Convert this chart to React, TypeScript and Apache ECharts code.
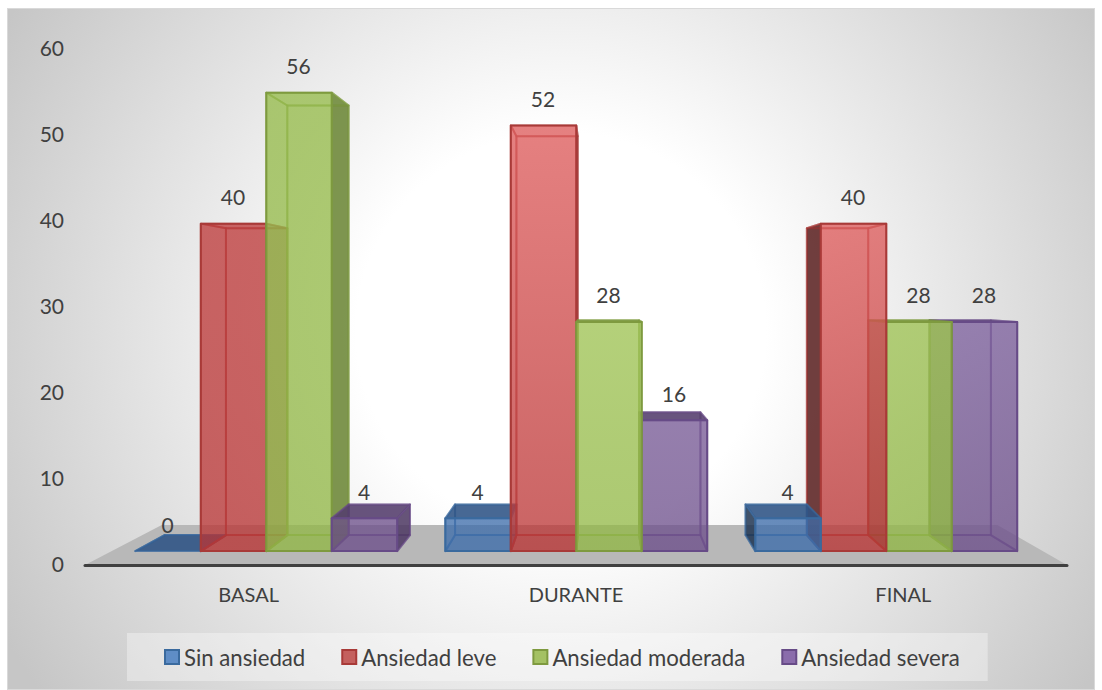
import React, { useEffect, useRef } from "react";
import * as echarts from "echarts";

const stages = ["BASAL", "DURANTE", "FINAL"];
const levels = ["Sin ansiedad", "Ansiedad leve", "Ansiedad moderada", "Ansiedad severa"];
const sinAnsiedad = [0, 4, 4];
const ansiedadLeve = [40, 52, 40];
const ansiedadModerada = [56, 28, 28];
const ansiedadSevera = [4, 16, 28];
const levelValues = [sinAnsiedad, ansiedadLeve, ansiedadModerada, ansiedadSevera];
const valueTicks = { min: 0, max: 60, interval: 10 };

// Face colours per level: dim tone, lit tone, edge, legend swatch
const dimTones = [[60, 108, 170], [185, 52, 52], [145, 183, 69], [108, 78, 138]];
const litTones = [[60, 112, 176], [222, 90, 90], [158, 195, 82], [127, 98, 160]];
const edgeTones = ["#3A6A9E", "#A83A38", "#7E9A3F", "#674B87"];
const swatchTones = ["#5F8DC6", "#C4605E", "#A4C163", "#8A6CAB"];

const FONT = "Lato, sans-serif";
const TEXT = "#404040";

// Depth planes of the 3D projection, measured from the axis plane
const FRONT_SCALE_X = 0.947;
const FRONT_SCALE_Y = 0.952;
const BACK_RATIO = 0.937;
const FLOOR_SCALE = 0.851;
const VANISH_VALUE = 31.2;
const VANISH_BAND_SHIFT = 0.073;
const BAR_BAND_RATIO = 0.2112;
const BAR_NUDGE = 1;

const rgba = (c: number[], a: number) => `rgba(${c[0]},${c[1]},${c[2]},${a})`;
const shade = (c: number[], k: number) => c.map((v) => Math.round(v * k));
const mix = (a: number[], b: number[], t: number) => a.map((v, i) => Math.round(v + (b[i] - v) * t));
const clamp = (v: number) => Math.max(0, Math.min(1, v));

function vanishing(api: any) {
  const band = api.size([1, 0])[0];
  const vx = api.coord([1, 0])[0] + band * VANISH_BAND_SHIFT;
  const vy = api.coord([0, VANISH_VALUE])[1];
  return { band, vx, vy };
}

function renderBar(levelIndex: number) {
  return (_params: any, api: any) => {
    const { band, vx, vy } = vanishing(api);
    const stage = api.value(0);
    const value = api.value(1);
    const base = api.coord([stage, 0]);
    const top = api.coord([stage, value]);
    const w = band * BAR_BAND_RATIO;
    const x1 = base[0] + (levelIndex - 2) * w;
    const x2 = x1 + w;

    const front = (x: number, y: number) => [
      vx + (x - vx) * FRONT_SCALE_X - BAR_NUDGE,
      vy + (y - vy) * FRONT_SCALE_Y - BAR_NUDGE,
    ];
    const back = (p: number[]) => [vx + (p[0] - vx) * BACK_RATIO, vy + (p[1] - vy) * BACK_RATIO];

    const frontTL = front(x1, top[1]);
    const frontTR = front(x2, top[1]);
    const frontBR = front(x2, base[1]);
    const frontBL = front(x1, base[1]);
    const backTL = back(frontTL);
    const backTR = back(frontTR);
    const backBR = back(frontBR);
    const backBL = back(frontBL);

    // Bars further from the vanishing point are painted first
    const centre = (frontTL[0] + frontTR[0]) / 2;
    const order = Math.round(1000 - Math.abs(centre - vx)) * 10;

    const litX = clamp((centre - 200) / 300);
    const litAt = (y: number) => litX * clamp((520 - y) / 220);
    const toneAt = (y: number) => mix(dimTones[levelIndex], litTones[levelIndex], litAt(y));
    const edge = edgeTones[levelIndex];
    const midTone = dimTones[levelIndex];

    const leftOuter = backTL[0] < frontTL[0];
    const rightOuter = backTR[0] > frontTR[0];
    const topOuter = frontTL[1] > vy;

    // A side face hidden behind a neighbour at least as tall only tints that neighbour
    const leftHidden = levelIndex > 0 && levelValues[levelIndex - 1][stage] >= value;
    const rightHidden = levelIndex < 3 && levelValues[levelIndex + 1][stage] >= value;

    const face = (pts: number[][], fill: string, rank: number) => ({
      type: "polygon",
      z2: order + rank,
      shape: { points: pts },
      style: { fill, stroke: edge, lineWidth: 2, strokeOpacity: 0.55, lineJoin: "round" },
    });

    const children: any[] = [
      face([backTL, backTR, backBR, backBL], rgba(midTone, 0.06), 0),
      face([frontBL, frontBR, backBR, backBL], rgba(midTone, 0.12), 1),
      face(
        [frontTL, backTL, backBL, frontBL],
        leftOuter ? rgba(shade(midTone, 0.45), leftHidden ? 0.45 : 0.82) : rgba(midTone, 0.05),
        2
      ),
      face(
        [frontTR, backTR, backBR, frontBR],
        rightOuter ? rgba(shade(midTone, 0.72), rightHidden ? 0.5 : 0.85) : rgba(midTone, 0.05),
        3
      ),
      face([frontTL, frontTR, backTR, backTL], topOuter ? rgba(shade(midTone, 0.78), 0.88) : rgba(midTone, 0.05), 4),
    ];

    if (value > 0) {
      children.push({
        type: "polygon",
        z2: order + 5,
        shape: { points: [frontTL, frontTR, frontBR, frontBL] },
        style: {
          fill: new echarts.graphic.LinearGradient(0, 0, 0, 1, [
            { offset: 0, color: rgba(toneAt(frontTL[1]), 0.75) },
            { offset: 1, color: rgba(toneAt(frontBL[1]), 0.75) },
          ]),
          stroke: edge,
          lineWidth: 2,
          lineJoin: "round",
        },
      });
    }

    children.push({
      type: "text",
      z2: 20000,
      style: {
        text: String(value),
        x: centre - 0.5,
        y: frontTL[1] - 27,
        fill: TEXT,
        fontSize: 21,
        fontFamily: FONT,
        align: "center",
        verticalAlign: "middle",
      },
    });

    return { type: "group", children };
  };
}

// The grey floor plate that the bars stand on
function renderFloor(_params: any, api: any) {
  const { band, vx, vy } = vanishing(api);
  const y = api.coord([0, 0])[1];
  const left = api.coord([0, 0])[0] - band / 2;
  const right = api.coord([2, 0])[0] + band / 2;
  const far = (x: number) => [vx + (x - vx) * FLOOR_SCALE, vy + (y - vy) * FLOOR_SCALE];
  return {
    type: "polygon",
    shape: { points: [[left, y], [right, y], far(right), far(left)] },
    style: { fill: "#B8B8B8" },
  };
}

export default function App() {
  const ref = useRef<HTMLDivElement>(null);

  useEffect(() => {
    const chart = echarts.init(ref.current!, undefined, { renderer: "svg" });
    chart.setOption({
      animation: false,
      grid: { left: 85, width: 982, top: 49, height: 516 },
      xAxis: {
        type: "category",
        data: stages,
        z: 3,
        axisTick: { show: false },
        axisLine: { lineStyle: { color: "#404040", width: 3 } },
        axisLabel: { color: TEXT, fontSize: 20, fontFamily: FONT, margin: 19 },
      },
      yAxis: {
        type: "value",
        ...valueTicks,
        axisLine: { show: false },
        axisTick: { show: false },
        splitLine: { show: false },
        axisLabel: {
          margin: 21,
          formatter: "{tick|{value}}",
          rich: {
            tick: { color: TEXT, fontSize: 21, fontFamily: FONT, padding: [0, 0, 4, 0] },
          },
        },
      },
      legend: {
        data: levels,
        left: 127,
        top: 633,
        padding: [13, 28, 13, 37],
        backgroundColor: "rgba(255,255,255,0.35)",
        itemGap: 36,
        itemWidth: 14,
        itemHeight: 14,
        icon: "rect",
        textStyle: { color: TEXT, fontSize: 22.2, fontFamily: FONT },
      },
      series: [
        {
          type: "custom",
          name: "floor",
          z: -1,
          silent: true,
          renderItem: renderFloor,
          data: [[0, 0]],
        },
        ...levels.map((name, i) => ({
          type: "custom",
          name,
          clip: false,
          itemStyle: { color: swatchTones[i], borderColor: edgeTones[i], borderWidth: 2 },
          encode: { x: 0, y: 1 },
          renderItem: renderBar(i),
          data: levelValues[i].map((v, c) => [c, v]),
        })),
      ],
    });
    return () => chart.dispose();
  }, []);

  return (
    <div style={{ position: "absolute", left: 0, top: 0, width: 1102, height: 690, background: "#fff", overflow: "hidden" }}>
      <div
        style={{
          position: "absolute",
          left: 7,
          top: 8,
          width: 1088,
          height: 682,
          boxSizing: "border-box",
          border: "1px solid #d9d9d9",
          background: "radial-gradient(ellipse 640px 620px at 553px 322px, #fff 32%, #c6c6c6 100%)",
        }}
      />
      <div ref={ref} style={{ position: "absolute", left: 0, top: 0, width: 1102, height: 690 }} />
    </div>
  );
}
